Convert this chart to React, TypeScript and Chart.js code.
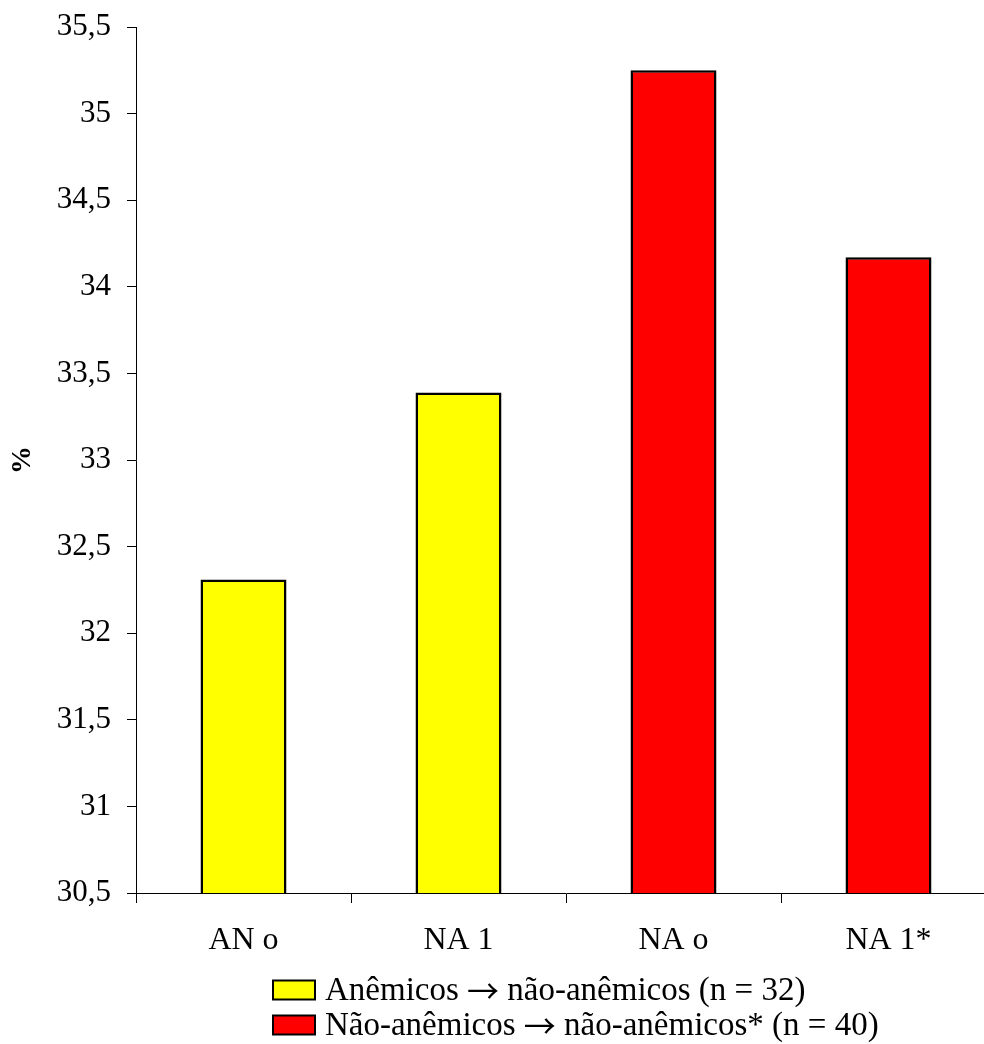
import React, { useEffect, useRef } from "react";
import { Chart, registerables } from "chart.js";

Chart.register(...registerables);

// Hematocrit (%) at baseline and follow-up for both groups
const categories = ["AN o", "NA 1", "NA o", "NA 1*"];
const anemicToNonAnemic = [32.31, 33.39, null, null];
const nonAnemicToNonAnemic = [null, null, 35.25, 34.17];
const seriesLabels = [
  "Anêmicos \u2192 não-anêmicos (n = 32)",
  "Não-anêmicos \u2192 não-anêmicos* (n = 40)",
];
const seriesColors = ["#FFFF00", "#FF0000"];
const yMin = 30.5;
const yMax = 35.5;
const yStep = 0.5;

const SERIF = "'Liberation Serif', 'Times New Roman', Times, serif";
// full-width, thin-stroked arrow glyph
const ARROW_FONT = "32px 'Noto Sans CJK JP', 'DejaVu Sans', sans-serif";

// Stacked legend drawn under the axis, boxes aligned on the left.
const stackedLegend = {
  id: "stackedLegend",
  afterDraw(chart: any) {
    const { ctx, chartArea } = chart;
    const boxX = 273;
    const boxW = 42;
    const boxH = 19;
    const rowGap = 35;
    const firstRow = chartArea.bottom + 97;
    const textFont = `33px ${SERIF}`;
    ctx.save();
    ctx.textBaseline = "middle";
    ctx.textAlign = "left";
    chart.data.datasets.forEach((ds: any, i: number) => {
      const cy = firstRow + i * rowGap;
      ctx.fillStyle = ds.backgroundColor;
      ctx.fillRect(boxX, cy - boxH / 2, boxW, boxH);
      ctx.lineWidth = 2;
      ctx.strokeStyle = "#000";
      ctx.strokeRect(boxX, cy - boxH / 2, boxW, boxH);
      ctx.fillStyle = "#000";
      const parts = String(ds.label).split("\u2192");
      let x = boxX + boxW + 10;
      parts.forEach((part: string, k: number) => {
        if (k > 0) {
          ctx.font = ARROW_FONT;
          ctx.fillText("\u2192", x, cy + 1);
          x += ctx.measureText("\u2192").width;
        }
        ctx.font = textFont;
        ctx.fillText(part, x, cy + 1);
        x += ctx.measureText(part).width;
      });
    });
    ctx.restore();
  },
};

export default function App() {
  const canvasRef = useRef<HTMLCanvasElement | null>(null);

  useEffect(() => {
    if (!canvasRef.current) return;
    const chart = new Chart(canvasRef.current, {
      type: "bar",
      data: {
        labels: categories,
        datasets: [
          {
            label: seriesLabels[0],
            data: anemicToNonAnemic,
            backgroundColor: seriesColors[0],
            borderColor: "#000",
            borderWidth: 2.5,
            skipNull: true,
          } as any,
          {
            label: seriesLabels[1],
            data: nonAnemicToNonAnemic,
            backgroundColor: seriesColors[1],
            borderColor: "#000",
            borderWidth: 2.5,
            skipNull: true,
          } as any,
        ],
      },
      options: {
        animation: false,
        responsive: true,
        maintainAspectRatio: false,
        layout: { padding: { top: 27, right: 4, left: 0, bottom: 81 } },
        datasets: {
          bar: { barPercentage: 0.4, categoryPercentage: 1 },
        },
        plugins: {
          legend: { display: false },
          tooltip: { enabled: false },
        },
        scales: {
          x: {
            grid: {
              offset: true,
              drawOnChartArea: false,
              drawTicks: true,
              tickLength: 10,
              color: "#000",
            },
            border: { display: true, color: "#000", width: 1 },
            ticks: {
              color: "#000",
              padding: 18,
              font: { family: SERIF, size: 32 },
            },
            afterFit(scale: any) {
              scale.height = 70;
            },
          },
          y: {
            min: yMin,
            max: yMax,
            grid: {
              drawOnChartArea: false,
              drawTicks: true,
              tickLength: 9,
              color: "#000",
            },
            border: { display: true, color: "#000", width: 1 },
            ticks: {
              stepSize: yStep,
              color: "#000",
              padding: 16,
              font: { family: SERIF, size: 31 },
              callback: (v: any) => String(Number(v)).replace(".", ","),
            },
            title: {
              display: true,
              text: "%",
              color: "#000",
              padding: { top: 6, bottom: 0 },
              font: { family: SERIF, size: 28, weight: "bold" },
            },
            afterFit(scale: any) {
              scale.width = 136;
              scale.paddingTop = 0;
              scale.paddingBottom = 0;
            },
          },
        },
      },
      plugins: [stackedLegend],
    });
    return () => chart.destroy();
  }, []);

  return (
    <div
      style={{
        position: "fixed",
        left: 0,
        top: 0,
        width: 984,
        height: 1044,
        overflow: "hidden",
        background: "#fff",
      }}
    >
      <div style={{ position: "relative", width: 1000, height: 1044 }}>
        <canvas ref={canvasRef} />
      </div>
    </div>
  );
}
